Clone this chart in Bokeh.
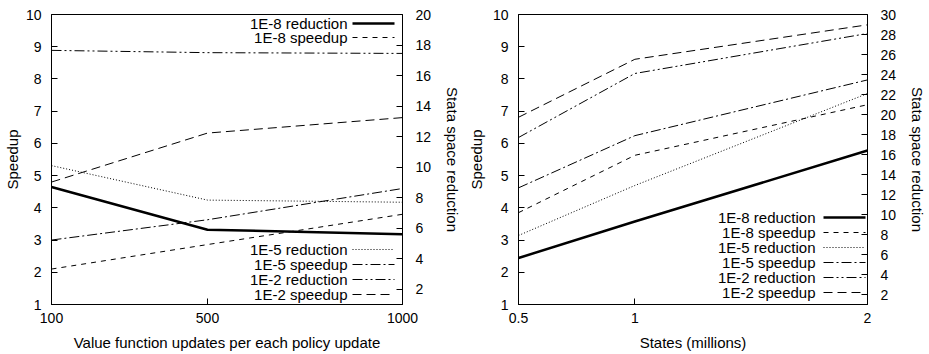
from bokeh.plotting import figure
from bokeh.models import Range1d, LinearAxis, FixedTicker, Label, Arrow
from bokeh.layouts import row
from bokeh.embed import file_html
from bokeh.resources import INLINE

# ---------------- data ----------------
# Left panel: x = value function updates per policy update
vf_updates = [100, 500, 1000]
l_red_1e8 = [8.7, 5.9, 5.6]     # state space reduction (right axis)
l_spd_1e8 = [2.1, 2.86, 3.8]    # speedup (left axis)
l_red_1e5 = [10.1, 7.84, 7.7]
l_spd_1e5 = [3.0, 3.63, 4.6]
l_red_1e2 = [17.65, 17.5, 17.45]
l_spd_1e2 = [4.8, 6.32, 6.8]

# Right panel: x = states (millions)
states = [0.5, 1, 2]
r_red_1e8 = [5.65, 9.3, 16.4]
r_spd_1e8 = [3.85, 5.63, 7.2]
r_red_1e5 = [7.9, 12.9, 22.1]
r_spd_1e5 = [4.62, 6.24, 7.97]
r_red_1e2 = [17.7, 24.1, 28.1]
r_spd_1e2 = [6.81, 8.61, 9.68]

left_xticks = [100, 500, 1000]
right_xticks = [0.5, 1, 2]
speed_ticks = list(range(1, 11))
left_red_ticks = list(range(2, 21, 2))
right_red_ticks = list(range(2, 31, 2))

labels = ["1E-8 reduction", "1E-8 speedup", "1E-5 reduction",
          "1E-5 speedup", "1E-2 reduction", "1E-2 speedup"]

FONT = "Liberation Sans"
styles = {
    "1E-8 reduction": dict(line_width=2.5, line_dash="solid"),
    "1E-8 speedup": dict(line_width=1, line_dash="5 5"),
    "1E-5 reduction": dict(line_width=1, line_dash="1 2"),
    "1E-5 speedup": dict(line_width=1, line_dash="10 3 2 3"),
    "1E-2 reduction": dict(line_width=1, line_dash="10 3 2 3 2 3"),
    "1E-2 speedup": dict(line_width=1, line_dash="9 5"),
}


def style_axis(ax, ticks, size="14px"):
    ax.ticker = FixedTicker(ticks=ticks)
    ax.major_tick_in = 6
    ax.major_tick_out = 0
    ax.minor_tick_in = 0
    ax.minor_tick_out = 0
    ax.major_label_text_font = FONT
    ax.major_label_text_font_size = size
    ax.major_label_text_color = "black"
    ax.axis_label_text_font = FONT
    ax.axis_label_text_font_size = "15px"
    ax.axis_label_text_font_style = "normal"
    ax.axis_label_text_color = "black"
    ax.axis_line_color = "black"
    ax.major_tick_line_color = "black"


def make_panel(x, series, xr, xticks, y2max, y2ticks, xlabel,
               width, height, borders, legend_groups, ytitle_standoff):
    p = figure(width=width, height=height, output_backend="svg",
               toolbar_location=None, x_range=Range1d(*xr),
               y_range=Range1d(1, 10),
               min_border_left=borders[0], min_border_right=borders[1],
               min_border_top=borders[2], min_border_bottom=borders[3])
    p.extra_y_ranges = {"red": Range1d(1, y2max)}
    p.grid.visible = False
    p.outline_line_color = "black"
    p.outline_line_width = 1
    p.background_fill_color = "white"
    p.border_fill_color = "white"

    style_axis(p.xaxis[0], xticks)
    p.xaxis[0].axis_label = xlabel
    p.xaxis[0].major_label_standoff = 8
    p.xaxis[0].axis_label_standoff = 8
    style_axis(p.yaxis[0], speed_ticks)
    p.yaxis[0].axis_label = "Speedup"
    p.yaxis[0].major_label_standoff = 10
    p.yaxis[0].axis_label_standoff = ytitle_standoff

    y2 = LinearAxis(y_range_name="red", axis_label="Stata space reduction")
    style_axis(y2, y2ticks)
    y2.major_label_standoff = 13
    y2.axis_label_standoff = 10
    p.add_layout(y2, "right")

    for name, ys in series:
        kw = dict(line_color="black", **styles[name])
        if "reduction" in name:
            p.line(x, ys, y_range_name="red", **kw)
        else:
            p.line(x, ys, **kw)

    # gnuplot style key: text right aligned, line sample on the right
    for (tx, sx0, sx1, ytop, step, names) in legend_groups:
        for i, name in enumerate(names):
            yy = ytop - i * step
            p.add_layout(Label(x=tx, y=yy, x_units="screen", y_units="screen",
                               text=name, text_align="right",
                               text_baseline="middle", text_font=FONT,
                               text_font_size="15px", text_color="black"))
            st = styles[name]
            p.add_layout(Arrow(start=None, end=None, x_start=sx0, y_start=yy,
                               x_end=sx1, y_end=yy, start_units="screen",
                               end_units="screen", line_color="black",
                               line_width=st["line_width"],
                               line_dash=st["line_dash"]))
    return p


left_series = list(zip(labels, [l_red_1e8, l_spd_1e8, l_red_1e5,
                                l_spd_1e5, l_red_1e2, l_spd_1e2]))
right_series = list(zip(labels, [r_red_1e8, r_spd_1e8, r_red_1e5,
                                 r_spd_1e5, r_red_1e2, r_spd_1e2]))

p1 = make_panel(vf_updates, left_series, (100, 1000), left_xticks, 20,
                left_red_ticks,
                "Value function updates per each policy update",
                464, 354, (47, 56, 14, 50),
                [(296, 301, 343, 281, 14, labels[:2]),
                 (296, 301, 343, 55, 15, labels[2:])], 2)
p2 = make_panel(states, right_series, (0.5, 2), right_xticks, 30,
                right_red_ticks, "States (millions)",
                465, 354, (43, 57, 4, 49),
                [(297, 305, 347, 87, 15, labels)], 5)

layout = row(p1, p2)
open("out.html", "w").write(file_html(layout, INLINE))
